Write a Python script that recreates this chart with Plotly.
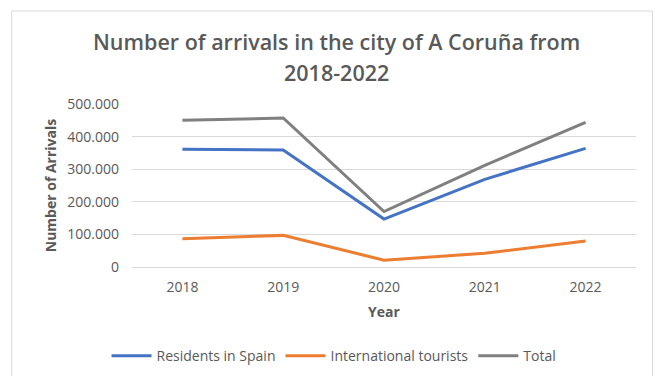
import plotly.graph_objects as go

years = ["2018", "2019", "2020", "2021", "2022"]
residents = [361000, 359000, 147000, 269000, 364000]
international = [87000, 97000, 21000, 42000, 80000]
total = [450000, 457000, 170000, 312000, 444000]
y_ticks = [0, 100000, 200000, 300000, 400000, 500000]

FONT = "Open Sans"
TXT = "#595959"

fig = go.Figure()
fig.add_trace(go.Scatter(x=years, y=residents, mode="lines", name="Residents in Spain",
                         line=dict(color="#4472C4", width=3)))
fig.add_trace(go.Scatter(x=years, y=international, mode="lines", name="International tourists",
                         line=dict(color="#ED7D31", width=3)))
fig.add_trace(go.Scatter(x=years, y=total, mode="lines", name="Total",
                         line=dict(color="#808080", width=3)))

L, R, T, B = 131.5, 18.5, 104, 109
PW, PH = 655 - L - R, 376 - T - B

def px_x(x):
    return (x - L) / PW

def px_y(y):
    return (376 - B - y) / PH

fig.update_layout(
    width=655, height=376,
    margin=dict(l=L, r=R, t=T, b=B),
    paper_bgcolor="white", plot_bgcolor="white",
    separators=",.",
    font=dict(family=FONT, size=14, color=TXT),
    showlegend=True,
    legend=dict(orientation="h", xref="container", yref="container", x=0.51, y=0.053,
                xanchor="center", yanchor="middle", font=dict(size=14, color=TXT),
                itemwidth=40, tracegroupgap=0),
    annotations=[
        dict(text="Number of arrivals in the city of A Coruña from", xref="paper", yref="paper",
             x=px_x(336), y=px_y(42), yanchor="middle", showarrow=False,
             font=dict(size=21.5, color=TXT, family=FONT, weight=600)),
        dict(text="2018-2022", xref="paper", yref="paper",
             x=px_x(336), y=px_y(72), yanchor="middle", showarrow=False,
             font=dict(size=21.5, color=TXT, family=FONT, weight=600)),
    ],
    shapes=[dict(type="rect", xref="paper", yref="paper", x0=px_x(11), x1=px_x(653),
                 y0=px_y(385), y1=px_y(11),
                 line=dict(color="#d9d9d9", width=1), fillcolor="rgba(0,0,0,0)", layer="below")],
)

fig.update_xaxes(type="category", range=[-0.5, 4.5], showgrid=False, showline=True,
                 linecolor="#d9d9d9", linewidth=1, ticks="", ticklabelstandoff=7,
                 tickfont=dict(size=14, color=TXT),
                 title=dict(text="<b>Year</b>", font=dict(size=14, color=TXT), standoff=12))
fig.update_yaxes(range=[0, 500000], tickvals=y_ticks, tickformat=",d", showgrid=True,
                 gridcolor="#d9d9d9", gridwidth=1, zeroline=False, showline=False, ticks="",
                 ticklabelstandoff=12, tickfont=dict(size=14, color=TXT),
                 title=dict(text="<b>Number of Arrivals</b>", font=dict(size=14, color=TXT), standoff=7))

fig.write_html("out.html")
